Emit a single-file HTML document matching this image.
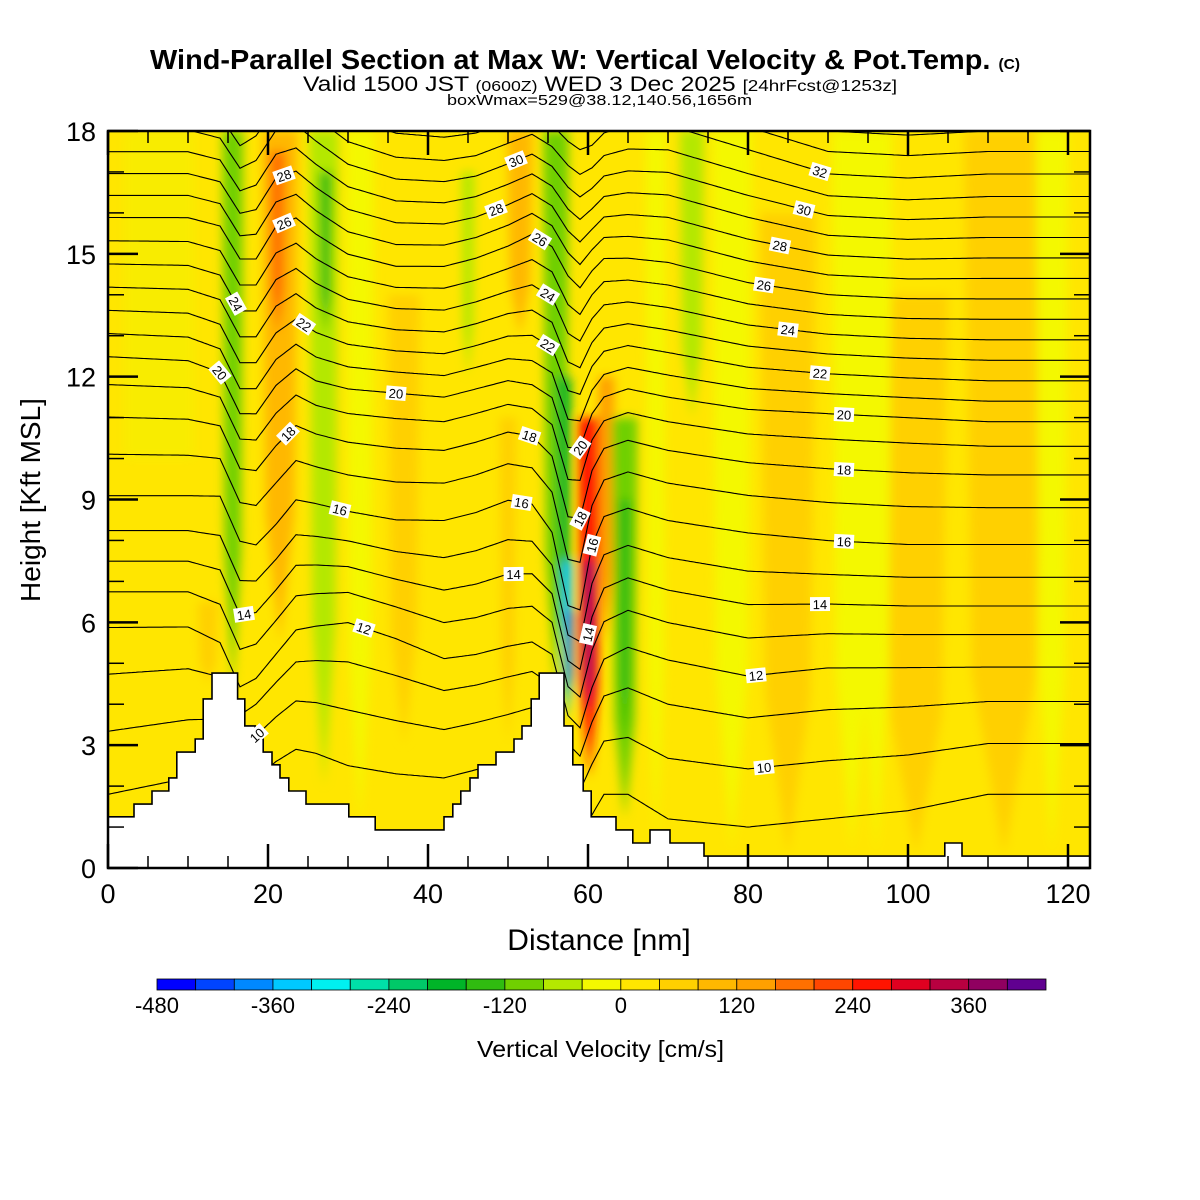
<!DOCTYPE html>
<html><head><meta charset="utf-8"><style>
html,body{margin:0;padding:0;background:#fff;}
svg{display:block;font-family:"Liberation Sans",sans-serif;}
</style></head><body>
<svg id="chart" width="1200" height="1200" viewBox="0 0 1200 1200" xmlns="http://www.w3.org/2000/svg">
<defs>
<clipPath id="plotclip"><rect x="108" y="131" width="982" height="737"/></clipPath>
<filter id="blur" x="-50%" y="-20%" width="200%" height="140%"><feGaussianBlur stdDeviation="5"/></filter>
</defs>
<text x="150" y="69" textLength="870" lengthAdjust="spacingAndGlyphs" font-size="28" font-weight="bold">Wind-Parallel Section at Max W: Vertical Velocity &amp; Pot.Temp. <tspan font-size="15">(C)</tspan></text>
<text x="303" y="91" textLength="594" lengthAdjust="spacingAndGlyphs" font-size="21">Valid 1500 JST <tspan font-size="15">(0600Z)</tspan> WED 3 Dec 2025 <tspan font-size="16">[24hrFcst@1253z]</tspan></text>
<text x="447" y="105" textLength="305" lengthAdjust="spacingAndGlyphs" font-size="15">boxWmax=529@38.12,140.56,1656m</text>
<g id="field" clip-path="url(#plotclip)"></g>
<g id="contours" clip-path="url(#plotclip)"></g>
<g id="terrain" clip-path="url(#plotclip)"></g>
<g id="labels"></g>
<g id="axes"></g>
<g id="colorbar"></g>
<text transform="translate(40,500) rotate(-90)" text-anchor="middle" font-size="28">Height [Kft MSL]</text>
<text x="599" y="950" text-anchor="middle" font-size="30">Distance [nm]</text>
<text x="477" y="1057" textLength="247" lengthAdjust="spacingAndGlyphs" font-size="23">Vertical Velocity [cm/s]</text>
</svg>
<script>
// ---- data ----
const xTicks = [0,20,40,60,80,100,120];
const yTicks = [0,3,6,9,12,15,18];
const cbEdges = [-480,-440,-400,-360,-320,-280,-240,-200,-160,-120,-80,-40,0,40,80,120,160,200,240,280,320,360,400,440];
const cbColors = ["#0000ff","#0044ff","#0088ff","#00c8ff","#00f0f0","#00e0a8","#00c868","#00b428","#30bc10","#70d000","#b4e800","#f4f800","#ffe600","#ffd000","#ffb800","#ffa000","#ff7000","#ff4600","#ff1400","#e00020","#b80040","#900060","#600090"];
const cbLabels = [-480,-360,-240,-120,0,120,240,360];
// terrain steps: start nm and height kft
const terrX = [0,3.25,5.5,7.6,8.6,10.9,11.9,13,16.2,17.1,18.4,19.4,20.5,21.5,22.6,24.75,30.1,33.4,42,43.1,44.1,45.25,46.25,48.5,50.75,51.75,52.9,53.9,57,58.1,59.4,60.4,63.5,65.6,67.75,70.25,74.5,104.6,106.75];
const terrH = [1.25,1.56,1.88,2.2,2.83,3.15,4.13,4.76,4.13,3.47,3.15,2.83,2.52,2.2,1.88,1.56,1.25,0.93,1.25,1.56,1.88,2.2,2.52,2.83,3.15,3.47,4.13,4.76,3.47,2.52,1.88,1.25,0.93,0.61,0.93,0.61,0.29,0.61,0.29];
// potential temperature contours
const thetaLevels = [9,10,11,12,13,14,15,16,17,18,19,20,21,22,23,24,25,26,27,28,29,30,31,32,33,34];
const thetaBase = [1.6,2.9,4.0,4.9,5.7,6.4,7.1,7.9,8.8,9.6,10.3,10.9,11.4,11.9,12.4,12.9,13.4,13.9,14.4,14.9,15.4,15.9,16.4,16.95,17.5,18.0];
const dispX = [0,10,14,16.5,18.5,21,23.5,26,30,36,42,46,50,53,55.5,57.5,59,60.5,62,65,70,80,90,100,110,123];
const dispZ = [2,5,8,11,14,17];
const dispRow2  = [0.2,0.6,0.8,0.2,0.6,1.0,1.3,1.2,0.9,0.7,0.6,0.8,1.0,1.2,0.8,-0.5,-0.8,-0.3,0.2,0.2,-0.4,-0.6,-0.4,-0.2,0.2,0.2];
const dispRow5  = [1.0,1.0,0.6,-0.5,-0.3,0.3,0.9,1.0,1.1,0.7,0.2,0.3,0.5,0.6,0.3,-1.2,-1.5,-0.5,0.2,0.5,0.2,-0.2,0,0,0,0];
const dispRow8  = [1.2,1.2,1.2,0.1,0.0,0.5,1.1,1.0,0.8,0.6,0.6,0.8,1.1,1.0,0.3,-1.5,-1.6,0.0,0.7,0.9,0.6,0.3,0.1,0,0,0];
const dispRow11 = [1.6,1.5,1.2,0.2,0.2,0.9,1.3,1.0,0.8,0.7,0.6,0.8,1.0,0.9,0.6,-0.6,-0.6,0.2,0.6,0.8,0.6,0.3,0.2,0.1,0,0];
const dispRow14 = [2.0,2.0,1.8,1.0,1.0,1.8,2.0,1.6,1.1,0.8,0.8,1.0,1.3,1.6,1.3,0.6,0.3,0.7,1.0,1.0,0.9,0.4,0.1,0,0,0];
const dispRow17 = [2.2,2.2,2.0,1.3,1.6,2.3,2.4,2.0,1.4,1.0,0.9,1.0,1.3,1.5,1.2,0.8,0.6,0.7,1.0,1.2,1.2,0.6,0.0,-0.1,0,0];
const labLevel = [28,26,24,22,20,18,16,14,12,10,30,28,26,24,22,20,18,16,14,20,18,16,14,32,30,28,26,24,22,20,18,16,14,12,10];
const labX     = [22,22,16,24.5,14,22.5,29,17,32,18.6,51,48.5,54,55,55,36,52.7,51.7,50.7,59,59,60.5,60,89,87,84,82,85,89,92,92,92,89,81,82];
// vertical velocity bands: centre nm, width nm, top kft, bottom kft, value cm/s
const bandX   = [12.5,15.6,21.5,21.2,27,27.2,31.5,37,45,51.5,50,56,57,57.5,57.8,60.2,60.1,62.3,64.6,64.6,68.5,73,78,85,93,101,112,96,118];
const bandW   = [2.5,2.6,4.5,2.0,3.6,1.6,3.5,4,1.6,3.2,2,3.2,1.8,1.2,0.7,2.8,1.2,2,3.2,1.6,2.5,3,5,7,5,8,10,4,4];
const bandTop = [6.5,18,18,17.5,18,17,18,14,17,18,11,18,12,7.5,6.3,11,7.5,12,11,9,18,18,18,16,18,14,18,18,18];
const bandBot = [4.5,4.3,5.5,13,2,13,1,3,12,13,3,4.2,5.5,3.6,4.2,2.2,3.8,5.5,1.2,3,0.5,11,0.4,0.3,0.4,0.3,0.3,0.3,0.3];
const bandVal = [60,-100,100,160,-80,-130,-20,40,-80,100,50,-110,-190,-330,-460,260,380,140,-110,-150,-20,-60,-20,40,-20,40,40,-20,-20];

// ---- scales ----
const X0=108, X1=1090, Y0=868, Y1=131;
const xs = nm => X0 + nm*8;
const ys = k => Y0 - k*(Y0-Y1)/18;
const XMAX = (X1-X0)/8;
const NS='http://www.w3.org/2000/svg';
function mk(tag, attrs, parent){const e=document.createElementNS(NS,tag);for(const k in attrs)e.setAttribute(k,attrs[k]);parent.appendChild(e);return e;}
function colorFor(v){for(let i=0;i<cbColors.length;i++){if(v<cbEdges[i+1])return cbColors[i];}return cbColors[cbColors.length-1];}

// ---- field ----
const field=document.getElementById('field');
const bg=mk('rect',{x:X0,y:Y1,width:X1-X0,height:Y0-Y1,fill:'#ffe600'},field);


const lt=mk('rect',{x:xs(2),y:ys(18),width:70,height:ys(10)-ys(18),fill:'#f4f000',filter:'url(#blur)',opacity:0.6},field);


const fg=mk('g',{filter:'url(#blur)'},field);
for(let i=0;i<bandX.length;i++){
  const cx=xs(bandX[i]), hw=bandW[i]*4, t=ys(bandTop[i]), b=ys(bandBot[i]);
  const pts=[[cx-hw,t],[cx+hw,t],[cx+hw*0.8,t+(b-t)*0.75],[cx,b],[cx-hw*0.8,t+(b-t)*0.75]].map(p=>p.join(',')).join(' ');
  const p=mk('polygon',{points:pts,fill:colorFor(bandVal[i])},fg);
  
  
}

// ---- contours ----
const rows=[dispRow2,dispRow5,dispRow8,dispRow11,dispRow14,dispRow17];
function interp1(arr,x){if(x<=dispX[0])return arr[0];for(let i=0;i<dispX.length-1;i++){if(x<=dispX[i+1]){const f=(x-dispX[i])/(dispX[i+1]-dispX[i]);return arr[i]+f*(arr[i+1]-arr[i]);}}return arr[arr.length-1];}
function disp(x,z){
  if(z<=dispZ[0])return interp1(rows[0],x);
  for(let j=0;j<dispZ.length-1;j++){if(z<=dispZ[j+1]){const f=(z-dispZ[j])/(dispZ[j+1]-dispZ[j]);return interp1(rows[j],x)*(1-f)+interp1(rows[j+1],x)*f;}}
  return interp1(rows[rows.length-1],x);
}
function levelZ(li,x){const b=thetaBase[li];return b+disp(x,b);}
const cg=document.getElementById('contours');
for(let li=0;li<thetaLevels.length;li++){
  let d='';
  for(let x=0;x<=XMAX+0.01;x+=0.25){d+=(x===0?'M':'L')+xs(x).toFixed(1)+','+ys(levelZ(li,x)).toFixed(1);}
  const p=mk('path',{d:d,fill:'none',stroke:'#000','stroke-width':1.1},cg);
  
  
}

// ---- terrain ----
const tg=document.getElementById('terrain');
let td='M'+xs(0)+','+(Y0+2);
for(let i=0;i<terrX.length;i++){const xe=(i<terrX.length-1)?terrX[i+1]:XMAX;td+='L'+xs(terrX[i]).toFixed(1)+','+ys(terrH[i]).toFixed(1)+'L'+xs(xe).toFixed(1)+','+ys(terrH[i]).toFixed(1);}
td+='L'+xs(XMAX)+','+(Y0+2)+'Z';
const terr=mk('path',{d:td,fill:'#fff',stroke:'#000','stroke-width':1.6},tg);



// ---- contour labels ----
const lg=document.getElementById('labels');
for(let i=0;i<labLevel.length;i++){
  const li=thetaLevels.indexOf(labLevel[i]); if(li<0)continue;
  const x=labX[i], z=levelZ(li,x);
  const dy=ys(levelZ(li,x+0.5))-ys(levelZ(li,x-0.5)); let ang=Math.atan2(dy,8)*180/Math.PI;
  const g=mk('g',{transform:'translate('+xs(x).toFixed(1)+','+ys(z).toFixed(1)+') rotate('+ang.toFixed(1)+')'},lg);
  
  
  mk('rect',{x:-10,y:-7,width:20,height:14,fill:'#fff'},g);
  const t=mk('text',{x:0,y:5,'text-anchor':'middle','font-size':13},g); t.textContent=labLevel[i];
}

// ---- axes ----
const ag=document.getElementById('axes');
const frame=mk('rect',{x:X0,y:Y1,width:X1-X0,height:Y0-Y1,fill:'none',stroke:'#000','stroke-width':2.5},ag);


for(let v=0;v<=XMAX;v+=5){
  const major=(v%20===0), L=major?24:12, x=xs(v);
  mk('line',{x1:x,y1:Y0,x2:x,y2:Y0-L,stroke:'#000','stroke-width':major?2.5:1.5},ag);
  mk('line',{x1:x,y1:Y1,x2:x,y2:Y1+L,stroke:'#000','stroke-width':major?2.5:1.5},ag);
}
for(const v of xTicks){const t=mk('text',{x:xs(v),y:903,'text-anchor':'middle','font-size':27},ag);t.textContent=v;
  
  }
for(let v=0;v<=18;v+=1){
  const major=(v%3===0), L=major?30:16, y=ys(v);
  mk('line',{x1:X0,y1:y,x2:X0+L,y2:y,stroke:'#000','stroke-width':major?2.5:1.5},ag);
  mk('line',{x1:X1,y1:y,x2:X1-L,y2:y,stroke:'#000','stroke-width':major?2.5:1.5},ag);
}
for(const v of yTicks){const t=mk('text',{x:96,y:ys(v)+10,'text-anchor':'end','font-size':27},ag);t.textContent=v;
  
  }

// ---- colorbar ----
const cb=document.getElementById('colorbar');
const CB0=157, CB1=1046, cbx=v=>CB0+(v-cbEdges[0])*(CB1-CB0)/(cbEdges[cbEdges.length-1]-cbEdges[0]);
for(let i=0;i<cbColors.length;i++){
  const r=mk('rect',{x:cbx(cbEdges[i]),y:979,width:cbx(cbEdges[i+1])-cbx(cbEdges[i]),height:11,fill:cbColors[i],stroke:'#000','stroke-width':0.8},cb);
  
  
}
for(const v of cbLabels){const t=mk('text',{x:cbx(v),y:1013,'text-anchor':'middle','font-size':22},cb);t.textContent=v;
  
  }
</script>
</body></html>
